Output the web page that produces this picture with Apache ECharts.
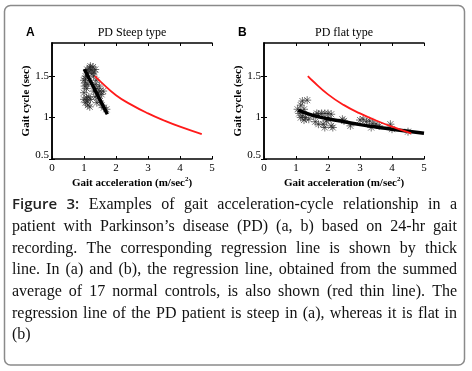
<!DOCTYPE html>
<html><head><meta charset="utf-8">
<script src="https://cdn.jsdelivr.net/npm/echarts@6/dist/echarts.min.js"></script>
<style>html,body{margin:0;padding:0;background:#fff}#c{width:472px;height:371px}</style>
</head><body><div id="c"></div>
<script>
// ---- Data ----
const panelTitles = ['PD Steep type', 'PD flat type'];
const panelLetters = ['A', 'B'];
const xTicks = [0, 1, 2, 3, 4, 5];
const yTicks = [0.5, 1, 1.5];
const xName = 'Gait acceleration (m/sec{sup|2})';
const yName = 'Gait cycle (sec)';

const scatterA = [
  [1.10,1.58],[1.20,1.62],[1.28,1.61],[1.35,1.58],[1.15,1.55],[1.25,1.53],[1.32,1.55],[1.22,1.57],[1.30,1.50],[1.05,1.50],
  [1.00,1.45],[1.05,1.42],[1.02,1.38],[1.08,1.35],[1.00,1.30],[1.12,1.40],[1.05,1.47],[1.18,1.60],
  [1.00,1.22],[1.10,1.20],[1.15,1.25],[1.20,1.22],[1.12,1.15],[1.05,1.18],[1.18,1.13],[1.08,1.24],
  [1.35,1.40],[1.40,1.35],[1.45,1.30],[1.50,1.32],[1.55,1.28],[1.60,1.32],[1.45,1.25],[1.50,1.20],
  [1.40,1.18],[1.55,1.15],[1.62,1.12],[1.70,1.10],[1.35,1.25],[1.30,1.32],[1.48,1.38],[1.38,1.45]
];
const regA = [[1.01,1.585],[1.73,1.04]];
const normalA = [[1.34,1.50],[1.5,1.44],[2,1.27],[2.5,1.15],[3,1.05],[3.5,0.965],[4,0.89],[4.68,0.80]];

const scatterB = [
  [1.05,1.10],[1.15,1.15],[1.20,1.20],[1.35,1.21],[1.25,1.10],[1.10,1.05],[1.15,1.00],[1.20,1.02],[1.30,1.00],
  [1.40,0.98],[1.25,0.97],[1.55,1.02],[1.65,1.05],[1.70,1.04],[1.80,1.05],[1.90,1.05],[2.00,1.05],[2.10,1.04],
  [1.60,0.95],[1.70,0.92],[1.85,0.92],[1.90,0.88],[2.00,0.98],[2.10,0.90],[2.15,0.88],[1.95,0.96],
  [2.45,0.98],[2.50,0.96],[2.70,0.90],[3.00,0.97],[3.10,0.98],[3.20,0.95],[3.30,0.96],[3.40,0.93],
  [3.50,0.92],[3.35,0.88],[3.60,0.90],[3.95,0.92],[4.00,0.86],[4.50,0.83]
];
const regB = [[1.07,1.09],[1.5,1.03],[2,0.985],[2.5,0.95],[3,0.915],[3.5,0.885],[4,0.86],[4.5,0.835],[5,0.81]];
const normalB = [[1.37,1.50],[1.5,1.45],[2,1.28],[2.5,1.15],[3,1.05],[3.5,0.965],[4,0.89],[4.6,0.81]];

const captionLines = [
  'Figure 3: Examples of gait acceleration-cycle relationship in a',
  'patient with Parkinson\u2019s disease (PD) (a, b) based on 24-hr gait',
  'recording. The corresponding regression line is shown by thick',
  'line. In (a) and (b), the regression line, obtained from the summed',
  'average of 17 normal controls, is also shown (red thin line). The',
  'regression line of the PD patient is steep in (a), whereas it is flat in',
  '(b)'
];

// ---- Chart ----
const serif = '"Liberation Serif", "DejaVu Serif", serif';
const chart = echarts.init(document.getElementById('c'), null, {renderer:'canvas'});
const grids = [
  {left:52, top:43, width:160, height:116},
  {left:264, top:43, width:160, height:116}
];
const asterisk = 'path://M0 -10L0 10M-10 0L10 0M-7.5 -7.5L7.5 7.5M-7.5 7.5L7.5 -7.5';

const xAxes = [], yAxes = [];
grids.forEach((g, i) => {
  xAxes.push({type:'value', gridIndex:i, min:0, max:5, interval:1, position:'bottom',
    name:xName, nameLocation:'middle', nameGap:17,
    nameTextStyle:{fontFamily:serif, fontWeight:'bold', fontSize:11, color:'#000',
      rich:{sup:{fontSize:7, fontWeight:'bold', fontFamily:serif, padding:[0,0,7,0], color:'#000'}}},
    axisLine:{show:true, lineStyle:{color:'#000', width:1.5}},
    axisTick:{inside:true, length:3, lineStyle:{color:'#000', width:1}},
    axisLabel:{fontFamily:serif, fontSize:11, color:'#000', margin:4},
    splitLine:{show:false}});
  xAxes.push({type:'value', gridIndex:i, min:0, max:5, interval:1, position:'top',
    axisLine:{show:true, lineStyle:{color:'#000', width:1.5}},
    axisTick:{inside:true, length:3, lineStyle:{color:'#000', width:1}},
    axisLabel:{show:false}, splitLine:{show:false}});
  yAxes.push({type:'value', gridIndex:i, min:0.5, max:1.9, position:'left',
    name:yName, nameLocation:'middle', nameGap:16, nameRotate:90,
    nameTextStyle:{fontFamily:serif, fontWeight:'bold', fontSize:11, color:'#000'},
    axisLine:{show:true, lineStyle:{color:'#000', width:1.5}},
    axisTick:{inside:true, length:3, customValues:yTicks, lineStyle:{color:'#000', width:1}},
    axisLabel:{fontFamily:serif, fontSize:11, color:'#000', margin:3, customValues:yTicks,
      formatter:(v) => v === 0.5 ? '{lo|0.5}' : String(v),
      rich:{lo:{fontFamily:serif, fontSize:11, color:'#000', padding:[0,0,8,0]}}},
    splitLine:{show:false}});
  yAxes.push({type:'value', gridIndex:i, min:0.5, max:1.9, position:'right',
    axisLine:{show:true, lineStyle:{color:'#000', width:1.5}},
    axisTick:{inside:true, length:3, customValues:yTicks, lineStyle:{color:'#000', width:1}},
    axisLabel:{show:false}, splitLine:{show:false}});
});

function scatterSeries(data, gi){
  return {type:'scatter', xAxisIndex:gi*2, yAxisIndex:gi*2, data:data, symbol:asterisk,
    symbolSize:8, symbolKeepAspect:true, silent:true, z:2,
    itemStyle:{color:'rgba(0,0,0,0)', borderColor:'#222', borderWidth:0.8}};
}
function lineSeries(data, gi, color, width, z){
  return {type:'line', xAxisIndex:gi*2, yAxisIndex:gi*2, data:data, smooth:true, showSymbol:false,
    silent:true, z:z, lineStyle:{color:color, width:width}};
}

// Caption layout (justified) via text measurement
const ctx = document.createElement('canvas').getContext('2d');
const capLeft = 12, capRight = 457, capWidth = capRight - capLeft;
const capTop = 205, capStep = 21.7;
let capSize = 16;
const sansFont = (s) => '600 ' + s + 'px "Open Sans", "Noto Sans", sans-serif';
const serifFont = (s) => s + 'px ' + serif;
function wordFont(li, wi, s){ return (li === 0 && wi < 2) ? sansFont(s - 1) : serifFont(s); }
function lineWidth(li, s){
  const words = captionLines[li].split(' ');
  let w = 0; words.forEach((wd, wi) => { ctx.font = wordFont(li, wi, s); w += ctx.measureText(wd).width; });
  ctx.font = serifFont(s); w += (words.length - 1) * ctx.measureText(' ').width;
  return w;
}
for (let li = 0; li < captionLines.length; li++) {
  while (lineWidth(li, capSize) > capWidth && capSize > 10) capSize -= 0.25;
}
const graphics = [];
captionLines.forEach((line, li) => {
  const words = line.split(' ');
  const widths = words.map((wd, wi) => { ctx.font = wordFont(li, wi, capSize); return ctx.measureText(wd).width; });
  const total = widths.reduce((a, b) => a + b, 0);
  const last = li === captionLines.length - 1;
  ctx.font = serifFont(capSize);
  const gap = (!last && words.length > 1) ? (capWidth - total) / (words.length - 1) : ctx.measureText(' ').width;
  let x = capLeft;
  words.forEach((wd, wi) => {
    graphics.push({type:'text', silent:true, style:{text:wd, x:x, y:capTop + li * capStep,
      font:wordFont(li, wi, capSize), fill:(li === 0 && wi < 2) ? '#222' : '#111', verticalAlign:'middle', align:'left'}});
    x += widths[wi] + gap;
  });
});
// frame
graphics.unshift({type:'rect', silent:true, shape:{x:4.5, y:5.5, width:460, height:359.5, r:6},
  style:{fill:'none', stroke:'#8a8a8a', lineWidth:1.5}});
// titles and panel letters
grids.forEach((g, i) => {
  graphics.push({type:'text', silent:true, style:{text:panelTitles[i], x:g.left + g.width/2, y:33,
    font:'12px ' + serif, fill:'#000', align:'center', verticalAlign:'middle'}});
  graphics.push({type:'text', silent:true, style:{text:panelLetters[i], x:i === 0 ? 26 : 238, y:33,
    font:'bold 12px "Liberation Sans", Arial, sans-serif', fill:'#000', align:'left', verticalAlign:'middle'}});
});

chart.setOption({
  animation:false,
  backgroundColor:'#fff',
  grid: grids,
  xAxis: xAxes,
  yAxis: yAxes,
  series: [
    scatterSeries(scatterA, 0),
    lineSeries(regA, 0, '#000', 3.5, 3),
    lineSeries(normalA, 0, '#ff1a1a', 1.8, 4),
    scatterSeries(scatterB, 1),
    lineSeries(regB, 1, '#000', 3.5, 3),
    lineSeries(normalB, 1, '#ff1a1a', 1.8, 4)
  ],
  graphic: graphics
});
</script></body></html>
